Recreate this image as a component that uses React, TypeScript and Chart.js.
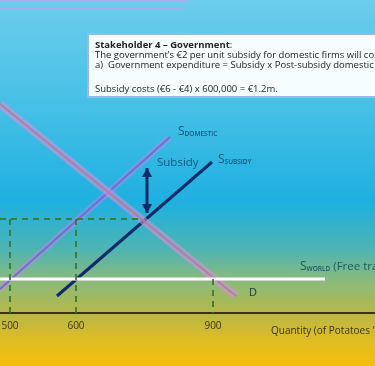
import React, { useEffect, useRef } from 'react';
import { Chart, registerables } from 'chart.js';

Chart.register(...registerables);

// Schematic diagram units: x runs 0..375 along the quantity axis,
// y (price) runs 0..313 upward from the quantity axis.
const tickValues = [10, 76, 213];
const tickLabels = ['500', '600', '900'];

const demandX = [0, 236];
const demandY = [209, 17];
const domesticX = [0, 170];
const domesticY = [24, 176];
const subsidyX = [57, 212];
const subsidyY = [17, 151];
const worldX = [0, 325];
const worldY = [34, 34];
const priceDashX = [0, 143];
const priceDashY = [94, 94];
const qDashX = [10, 76, 213];
const qDashTop = [94, 94, 34];
const arrowX = 147;
const arrowEnds = [145, 100];

const boxLines = [
  'Stakeholder 4 – Government:',
  'The government’s €2 per unit subsidy for domestic firms will cost the government:',
  'a)  Government expenditure = Subsidy x Post-subsidy domestic supply',
  '',
  'Subsidy costs (€6 - €4) x 600,000 = €1.2m.',
];

const pts = (xs: number[], ys: number[]) => xs.map((x, i) => ({ x, y: ys[i] }));

const FONT = '"Open Sans", "DejaVu Sans", sans-serif';

const bgPlugin = {
  id: 'bg',
  beforeDraw(chart: any) {
    const { ctx, width, height } = chart;
    const g = ctx.createLinearGradient(0, 0, 0, height);
    g.addColorStop(0, '#6ccdec');
    g.addColorStop(0.3, '#45bfe6');
    g.addColorStop(0.55, '#1eb0e0');
    g.addColorStop(0.68, '#4db4b2');
    g.addColorStop(0.77, '#8cba7a');
    g.addColorStop(0.86, '#b8b846');
    g.addColorStop(0.93, '#e0bc24');
    g.addColorStop(1, '#f5bf0a');
    ctx.save();
    ctx.fillStyle = g;
    ctx.fillRect(0, 0, width, height);
    ctx.strokeStyle = 'rgba(200,160,230,0.7)';
    ctx.lineWidth = 1;
    ctx.beginPath();
    ctx.moveTo(0, 0.5);
    ctx.lineTo(190, 0.5);
    ctx.moveTo(0, 8.5);
    ctx.lineTo(183, 8.5);
    ctx.stroke();
    ctx.restore();
  },
};

function drawS(ctx: CanvasRenderingContext2D, x: number, y: number, sub: string, color: string) {
  ctx.fillStyle = color;
  ctx.textBaseline = 'alphabetic';
  ctx.textAlign = 'left';
  ctx.font = `12px ${FONT}`;
  ctx.fillText('S', x, y);
  const w = ctx.measureText('S').width;
  ctx.font = `600 6.5px ${FONT}`;
  ctx.fillText(sub, x + w, y + 1);
  return x + w + ctx.measureText(sub).width;
}

const textPlugin = {
  id: 'texts',
  afterDraw(chart: any) {
    const { ctx } = chart;
    const xs = chart.scales.x;
    const ys = chart.scales.y;
    const px = (v: number) => xs.getPixelForValue(v);
    const py = (v: number) => ys.getPixelForValue(v);
    ctx.save();
    // line labels
    drawS(ctx, px(178), py(178), 'DOMESTIC', '#17587a');
    drawS(ctx, px(218), py(150), 'SUBSIDY', '#17587a');
    const end = drawS(ctx, px(300), py(43), 'WORLD', '#1d5a62');
    ctx.font = `11.5px ${FONT}`;
    ctx.fillStyle = '#1d5a62';
    ctx.fillText(' (Free trade)', end, py(43));
    ctx.font = `11.5px ${FONT}`;
    ctx.fillStyle = '#17587a';
    ctx.textBaseline = 'middle';
    ctx.fillText('Subsidy', px(157), py(150));
    ctx.font = `11px ${FONT}`;
    ctx.fillStyle = '#1a3350';
    ctx.fillText('D', px(249), py(20));
    // axis title
    ctx.font = `10px ${FONT}`;
    ctx.fillStyle = '#3d3418';
    ctx.fillText("Quantity (of Potatoes '000s)", px(271), 331);

    // text box
    ctx.fillStyle = '#f6fdff';
    ctx.fillRect(88, 34, 300, 63);
    ctx.strokeStyle = '#98b8ea';
    ctx.lineWidth = 2;
    ctx.strokeRect(88, 34, 300, 63);
    ctx.fillStyle = '#222222';
    ctx.textBaseline = 'middle';
    const ly = [45, 55, 65, 77, 89];
    boxLines.forEach((t, i) => {
      if (!t) return;
      if (i === 0) {
        ctx.font = `bold 9.5px ${FONT}`;
        ctx.fillText(t.replace(':', ''), 95, ly[i]);
        const w = ctx.measureText(t.replace(':', '')).width;
        ctx.font = `9.5px ${FONT}`;
        ctx.fillText(':', 95 + w, ly[i]);
      } else if (t.startsWith('a)')) {
        ctx.font = `9.5px ${FONT}`;
        ctx.fillText('a)', 95, ly[i]);
        ctx.fillText(t.slice(4), 108, ly[i]);
      } else {
        ctx.font = `9.5px ${FONT}`;
        ctx.fillText(t, 95, ly[i]);
      }
    });
    ctx.restore();
  },
};

const line = (data: any[], color: string, width: number, extra: any = {}) => ({
  data,
  borderColor: color,
  backgroundColor: color,
  borderWidth: width,
  pointRadius: 0,
  fill: false,
  tension: 0,
  ...extra,
});

export default function App() {
  const ref = useRef<HTMLCanvasElement>(null);
  useEffect(() => {
    if (!ref.current) return;
    const dash = { borderDash: [6, 5] };
    const dashColor = 'rgba(55,115,45,0.85)';
    const datasets: any[] = [
      line(pts(priceDashX, priceDashY), dashColor, 2, dash),
      ...qDashX.map((x, i) => line(pts([x, x], [qDashTop[i], 0]), dashColor, 2, dash)),
      line(pts(worldX, worldY), '#ffffff', 3),
      line(pts(demandX, demandY), 'rgba(206,146,220,0.6)', 8, { borderCapStyle: 'butt' }),
      line(pts(demandX, demandY), 'rgba(140,90,50,0.9)', 2),
      line(pts(domesticX, domesticY), 'rgba(180,140,230,0.45)', 7, { borderCapStyle: 'butt' }),
      line(pts(domesticX, domesticY), '#4b4fc4', 2),
      line(pts(subsidyX, subsidyY), '#0d2a6a', 3),
      line(pts([arrowX, arrowX], arrowEnds), '#0d2a6a', 3),
      line(pts([arrowX, arrowX], [arrowEnds[0] - 6, arrowEnds[1] + 6]), '#0d2a6a', 0, {
        showLine: false,
        pointRadius: 6,
        pointStyle: 'triangle',
        rotation: [0, 180],
        pointBorderWidth: 0,
      }),
    ];
    const chart = new Chart(ref.current, {
      type: 'line',
      data: { datasets },
      options: {
        animation: false,
        responsive: true,
        maintainAspectRatio: false,
        layout: { padding: 0, autoPadding: false },
        plugins: { legend: { display: false }, tooltip: { enabled: false } },
        scales: {
          x: {
            type: 'linear',
            min: 0,
            max: 375,
            grid: { display: false, drawTicks: false },
            border: { display: true, color: '#3a3020', width: 2 },
            afterBuildTicks: (s: any) => {
              s.ticks = tickValues.map((v) => ({ value: v }));
            },
            afterFit: (s: any) => {
              s.height = 53;
              s.paddingLeft = 0;
              s.paddingRight = 0;
            },
            ticks: {
              padding: 7,
              color: '#3d3418',
              font: { family: FONT, size: 10 },
              maxRotation: 0,
              autoSkip: false,
              callback: (v: any) => tickLabels[tickValues.indexOf(Number(v))] ?? '',
            },
          },
          y: { type: 'linear', min: 0, max: 313, display: false },
        },
      },
      plugins: [bgPlugin, textPlugin],
    });
    return () => chart.destroy();
  }, []);
  return (
    <div style={{ position: 'absolute', left: 0, top: 0, width: 375, height: 366 }}>
      <canvas ref={ref} />
    </div>
  );
}
